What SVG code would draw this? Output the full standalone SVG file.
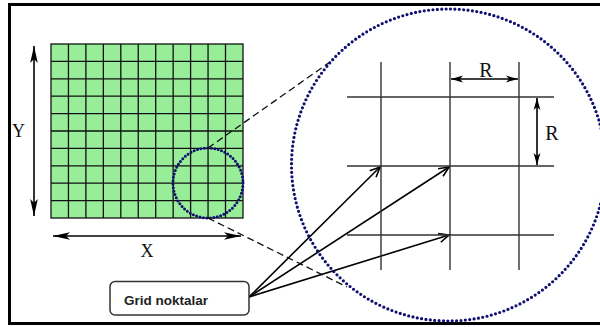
<svg xmlns="http://www.w3.org/2000/svg" width="600" height="327" viewBox="0 0 600 327">
<style>
.serif{font-family:"Liberation Serif","Times New Roman",serif;fill:#111}
.lbl{font-family:"Liberation Sans",Arial,sans-serif;font-weight:bold;fill:#222}
.cell{stroke:#111;stroke-width:1.3}
.mag{stroke:#333;stroke-width:1.4}
.dim{stroke:#000;stroke-width:1.6;fill:none}
.dot{fill:none;stroke:#10106e;stroke-linecap:round}
.dash{stroke:#111;stroke-width:1.3;stroke-dasharray:7 4;fill:none}
.ptr{stroke:#000;stroke-width:1.6;fill:none}
</style>
<defs>
<marker id="fa" viewBox="-17 -5 18 10" refX="0" refY="0" markerWidth="18" markerHeight="10" orient="auto-start-reverse" markerUnits="userSpaceOnUse"><path d="M0,0 L-17,-3.8 L-13,0 L-17,3.8 Z" fill="#000"/></marker>
<marker id="fs" viewBox="-13 -5 14 10" refX="0" refY="0" markerWidth="14" markerHeight="10" orient="auto-start-reverse" markerUnits="userSpaceOnUse"><path d="M0,0 L-12,-3.4 L-9,0 L-12,3.4 Z" fill="#000"/></marker>
<marker id="op" viewBox="-12 -6 14 12" refX="0" refY="0" markerWidth="14" markerHeight="12" orient="auto" markerUnits="userSpaceOnUse"><path d="M-10,-4.5 L0,0 L-10,4.5" fill="none" stroke="#000" stroke-width="1.6"/></marker>
</defs>
<rect x="0" y="0" width="600" height="327" fill="#fff"/>
<rect id="frame" x="9.5" y="4.5" width="592" height="319" fill="none" stroke="#000" stroke-width="3"/>

<g id="grid">
<rect x="51" y="44" width="192" height="174" fill="#98ee98" stroke="#111" stroke-width="1.3"/>
<path class="cell" d="M68.45,44V218M85.9,44V218M103.35,44V218M120.8,44V218M138.25,44V218M155.7,44V218M173.15,44V218M190.6,44V218M208.05,44V218M225.5,44V218M51,61.4H243M51,78.8H243M51,96.2H243M51,113.6H243M51,131H243M51,148.4H243M51,165.8H243M51,183.2H243M51,200.6H243"/>
</g>

<g id="y-axis">
<line class="dim" x1="34" y1="216" x2="34" y2="46" marker-start="url(#fa)" marker-end="url(#fa)"/>
<text class="serif" x="18.5" y="137" font-size="18" text-anchor="middle">Y</text>
</g>
<g id="x-axis">
<line class="dim" x1="53" y1="236" x2="241" y2="236" marker-start="url(#fa)" marker-end="url(#fa)"/>
<text class="serif" x="147" y="257" font-size="18" text-anchor="middle">X</text>
</g>

<g id="small-circle">
<circle class="dot" cx="208" cy="183" r="35" stroke-width="3" stroke-dasharray="0 3.5"/>
</g>

<g id="connectors">
<line class="dash" x1="208" y1="148" x2="330" y2="62"/>
<line class="dash" x1="208" y1="218" x2="347" y2="287"/>
<line class="ptr" x1="249" y1="297" x2="380" y2="167" marker-end="url(#op)"/>
<line class="ptr" x1="249" y1="297" x2="449" y2="167" marker-end="url(#op)"/>
<line class="ptr" x1="249" y1="297" x2="449" y2="235" marker-end="url(#op)"/>
</g>

<g id="big-circle">
<ellipse class="dot" cx="448.5" cy="165" rx="157" ry="156" stroke-width="3.2" stroke-dasharray="0 4.4"/>
</g>

<g id="magnified-grid">
<path class="mag" d="M381,62V270M450,62V270M519,62V270M347,97H554M347,166H554M347,235H554"/>
<line class="dim" x1="451" y1="79" x2="518" y2="79" marker-start="url(#fs)" marker-end="url(#fs)"/>
<text class="serif" x="486" y="77" font-size="20" text-anchor="middle">R</text>
<line class="dim" x1="537" y1="98" x2="537" y2="165" marker-start="url(#fs)" marker-end="url(#fs)"/>
<text class="serif" x="552" y="140" font-size="20" text-anchor="middle">R</text>
</g>

<g id="label-box">
<rect x="110" y="281.5" width="139" height="33.5" rx="5" fill="#fff" stroke="#333" stroke-width="1.5"/>
<text class="lbl" x="124" y="305" font-size="13.5">Grid noktalar</text>
</g>
</svg>
